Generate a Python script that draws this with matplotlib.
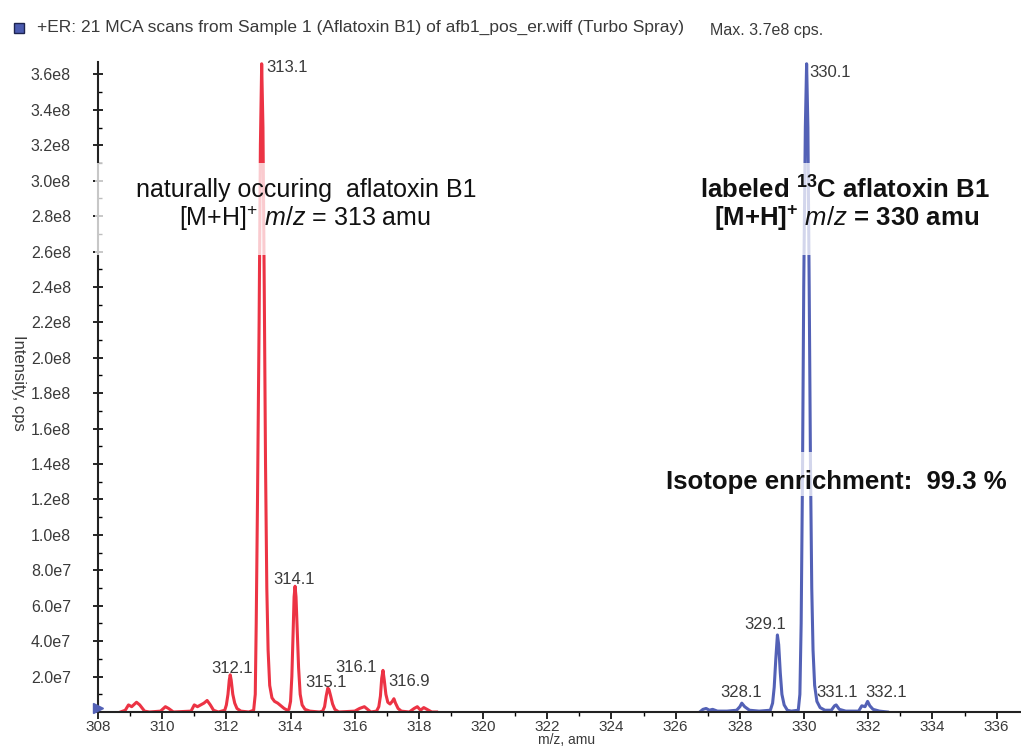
import numpy as np
import matplotlib
matplotlib.use("Agg")
import matplotlib.pyplot as plt
from matplotlib.patches import Rectangle
from matplotlib.ticker import MultipleLocator, FuncFormatter

plt.rcParams['font.family'] = ['Liberation Sans', 'DejaVu Sans']
plt.rcParams['mathtext.fontset'] = 'custom'
plt.rcParams['mathtext.rm'] = 'Liberation Sans'
plt.rcParams['mathtext.it'] = 'Liberation Sans:italic'
plt.rcParams['mathtext.bf'] = 'Liberation Sans:bold'

# profile spectra (intensity in units of 1e7 cps)
red_mz = [308.70, 308.85, 308.95, 309.05, 309.20, 309.30, 309.45, 309.60,
          309.95, 310.10, 310.20, 310.35, 310.90, 311.00, 311.10, 311.30,
          311.40, 311.50, 311.60, 311.75,
          311.95, 312.00, 312.05, 312.09, 312.12, 312.15, 312.20, 312.26,
          312.33, 312.45, 312.70,
          312.85, 312.90, 312.93, 312.97, 313.02, 313.06, 313.10, 313.14,
          313.18, 313.22, 313.26, 313.30, 313.35, 313.42, 313.50, 313.60,
          313.70, 313.80, 313.90,
          313.95, 314.00, 314.04, 314.08, 314.11, 314.14, 314.17, 314.21,
          314.25, 314.30, 314.36, 314.45, 314.60, 314.90,
          315.00, 315.06, 315.11, 315.16, 315.20, 315.25, 315.31, 315.38,
          315.50, 316.00, 316.15, 316.30, 316.40, 316.50,
          316.68, 316.75, 316.80, 316.84, 316.88, 316.92, 316.97, 317.03,
          317.10, 317.17, 317.22, 317.27, 317.35, 317.45, 317.70,
          317.85, 317.95, 318.05, 318.15, 318.25, 318.40, 318.55]
red_int = [0.0, 0.1, 0.4, 0.3, 0.55, 0.4, 0.05, 0.0,
           0.05, 0.3, 0.2, 0.0, 0.05, 0.4, 0.3, 0.5,
           0.65, 0.4, 0.1, 0.0,
           0.1, 0.4, 1.0, 1.8, 2.1, 1.8, 1.0, 0.5,
           0.2, 0.05, 0.0,
           0.1, 1.0, 5.0, 12.0, 22.0, 32.0, 36.6, 33.0,
           24.0, 14.0, 7.0, 3.5, 1.5, 0.8, 0.6, 0.5,
           0.35, 0.2, 0.1,
           0.15, 0.6, 2.0, 4.5, 6.5, 7.1, 6.5, 4.5,
           2.5, 1.0, 0.4, 0.15, 0.05, 0.0,
           0.05, 0.3, 0.9, 1.35, 1.25, 0.9, 0.45, 0.15,
           0.0, 0.05, 0.2, 0.3, 0.15, 0.0,
           0.05, 0.3, 0.9, 1.9, 2.35, 1.8, 1.0, 0.55,
           0.45, 0.6, 0.75, 0.5, 0.2, 0.05, 0.0,
           0.2, 0.3, 0.1, 0.25, 0.15, 0.0, 0.0]

blue_mz = [326.75, 326.85, 326.95, 327.05, 327.15, 327.30, 327.60, 327.90,
           328.00, 328.06, 328.15, 328.30, 328.60,
           328.95, 329.02, 329.07, 329.12, 329.17, 329.21, 329.26, 329.31,
           329.38, 329.48, 329.60,
           329.82, 329.87, 329.91, 329.95, 329.99, 330.04, 330.08, 330.12,
           330.16, 330.20, 330.24, 330.28, 330.33, 330.40, 330.50, 330.65,
           330.85, 330.95, 331.00, 331.10, 331.30, 331.70, 331.80,
           331.90, 331.98, 332.05, 332.15, 332.35, 332.60]
blue_int = [0.0, 0.15, 0.2, 0.1, 0.15, 0.05, 0.05, 0.1,
            0.3, 0.5, 0.3, 0.1, 0.05,
            0.1, 0.5, 1.4, 3.0, 4.35, 3.8, 2.2, 1.0,
            0.4, 0.1, 0.05,
            0.1, 1.0, 5.0, 13.0, 24.0, 33.0, 36.6, 33.0,
            24.0, 14.0, 7.0, 3.5, 1.5, 0.6, 0.25, 0.1,
            0.1, 0.35, 0.4, 0.15, 0.05, 0.05, 0.35,
            0.3, 0.6, 0.35, 0.15, 0.05, 0.0]

# peak labels: text, m/z position, intensity position (1e7), alignment
peak_labels = [("313.1", 313.23, 36.4, "left"),
               ("330.1", 330.15, 36.1, "left"),
               ("314.1", 314.12, 7.46, "center"),
               ("312.1", 312.17, 2.43, "center"),
               ("315.1", 315.11, 1.64, "center"),
               ("316.1", 316.04, 2.49, "center"),
               ("316.9", 317.04, 1.70, "left"),
               ("329.1", 328.80, 4.92, "center"),
               ("328.1", 328.03, 1.09, "center"),
               ("331.1", 331.04, 1.09, "center"),
               ("332.1", 332.56, 1.09, "center")]

red = "#ec3344"
blue = "#5361b6"
grey = "#3a3a3a"

fig = plt.figure(figsize=(10.21, 7.46), dpi=100)
ax = fig.add_axes([98 / 1021, 34 / 746, 923 / 1021, 650 / 746])

ax.plot(red_mz, np.array(red_int) * 1e7, color=red, lw=2.2, zorder=2)
ax.plot(blue_mz, np.array(blue_int) * 1e7, color=blue, lw=2.2, zorder=2)
ax.plot([308], [0.2e7], marker=">", color=blue, ms=7, clip_on=False, zorder=4)

ax.set_xlim(308, 336.76)
ax.set_ylim(0, 3.67e8)
ax.xaxis.set_major_locator(MultipleLocator(2))
ax.xaxis.set_minor_locator(MultipleLocator(1))
ax.yaxis.set_major_locator(MultipleLocator(2e7))
ax.yaxis.set_minor_locator(MultipleLocator(1e7))


def sci(v, pos):
    if v <= 0:
        return ""
    s = "%.1e" % v
    mant, ex = s.split("e")
    return "%se%d" % (mant, int(ex))


ax.yaxis.set_major_formatter(FuncFormatter(sci))
for s in ("top", "right"):
    ax.spines[s].set_visible(False)
for s in ("left", "bottom"):
    ax.spines[s].set_linewidth(1.5)
    ax.spines[s].set_color("#222222")
ax.tick_params(axis="y", which="major", direction="inout", length=7, width=1.2,
               labelsize=11.5, labelcolor=grey, pad=16)
ax.tick_params(axis="y", which="minor", direction="in", length=3, width=1)
ax.tick_params(axis="x", which="major", direction="out", length=5, width=1.2,
               labelsize=11, labelcolor=grey, pad=1)
ax.tick_params(axis="x", which="minor", direction="out", length=3, width=1)

for txt, x, y, ha in peak_labels:
    ax.text(x, y * 1e7, txt, ha=ha, va="center", fontsize=12, color=grey, zorder=5)

# translucent boxes behind the annotations
for (x0, y0, w, h) in [(95, 163, 425, 92), (655, 163, 360, 92), (655, 452, 360, 44)]:
    ax.add_patch(Rectangle((x0 / 1021, 1 - (y0 + h) / 746), w / 1021, h / 746,
                           transform=fig.transFigure, facecolor="white",
                           edgecolor="none", alpha=0.75, zorder=3, clip_on=False))

ax.text(314.48, 2.95e8, "naturally occuring  aflatoxin B1", ha="center", va="center",
        fontsize=18, color="#111111", zorder=5)
ax.text(314.45, 2.79e8, r"[M+H]$^{+}$ $\it{m/z}$ = 313 amu", ha="center", va="center",
        fontsize=18, color="#111111", zorder=5)
ax.text(331.27, 2.95e8, r"labeled $^{\mathbf{13}}$C aflatoxin B1", ha="center", va="center",
        fontsize=18.5, fontweight="bold", color="#111111", zorder=5)
ax.text(331.33, 2.79e8, r"[M+H]$^{\mathbf{+}}$ $\mathbf{\it{m/z}}$ = 330 amu", ha="center",
        va="center", fontsize=18.5, fontweight="bold", color="#111111", zorder=5)
ax.text(331.0, 1.30e8, "Isotope enrichment:  99.3 %", ha="center", va="center",
        fontsize=18.5, fontweight="bold", color="#111111", zorder=5)

# header line
fig.add_artist(Rectangle((14 / 1021, 1 - 33 / 746), 10 / 1021, 10 / 746,
                         transform=fig.transFigure, facecolor="#4b5bb0",
                         edgecolor="#1e2450", lw=1))
fig.text(37 / 1021, 1 - 27 / 746,
         "+ER: 21 MCA scans from Sample 1 (Aflatoxin B1) of afb1_pos_er.wiff (Turbo Spray)",
         ha="left", va="center", fontsize=12.5, color=grey)
fig.text(710 / 1021, 1 - 31 / 746, "Max. 3.7e8 cps.", ha="left", va="center",
         fontsize=11.5, color=grey)

fig.text(18 / 1021, 1 - 383 / 746, "Intensity, cps", rotation=270, ha="center",
         va="center", fontsize=12, color=grey)
fig.text(567 / 1021, 1 - 740 / 746, "m/z, amu", ha="center", va="center",
         fontsize=10, color=grey)

fig.savefig("out.png", dpi=100)
